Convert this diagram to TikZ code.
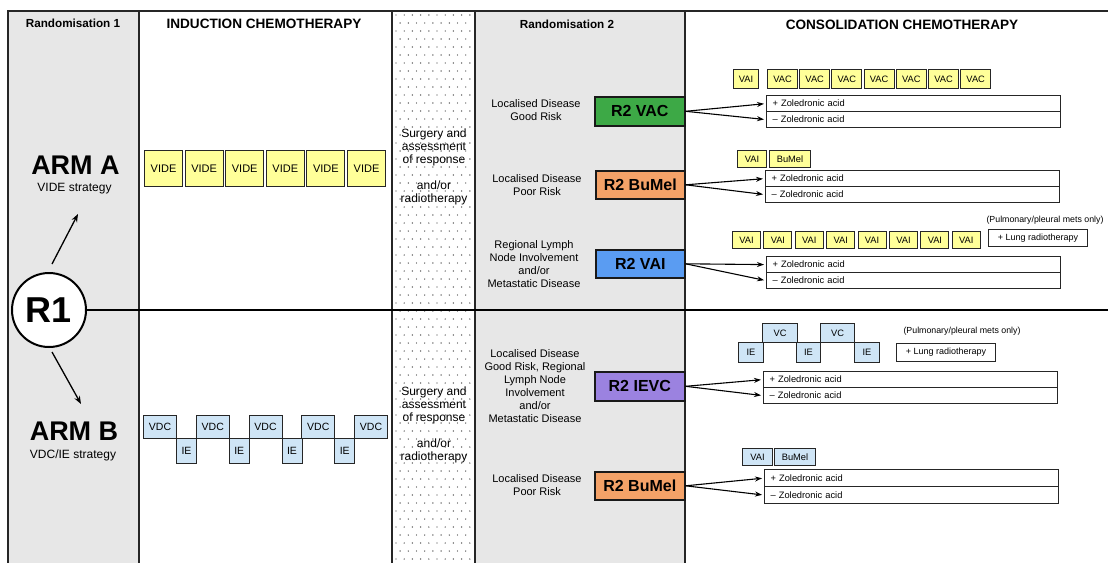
\documentclass[tikz,border=0pt]{standalone}
\usepackage{fontspec}
\setmainfont{Liberation Sans}
\usetikzlibrary{arrows.meta}
\definecolor{gry}{HTML}{E7E7E7}
\definecolor{yel}{HTML}{FFFF99}
\definecolor{lblue}{HTML}{CFE5F6}
\definecolor{vacg}{HTML}{3DA946}
\definecolor{bumo}{HTML}{F4A268}
\definecolor{vaib}{HTML}{5A9CF2}
\definecolor{ievp}{HTML}{9B82E0}
\tikzset{
  box/.style={draw=black!85, line width=1pt, inner sep=0pt, anchor=north west},
  ybox/.style={box, fill=yel},
  bbox/.style={box, fill=lblue},
  smallbox/.style={font=\fontsize{9.3}{10}\selectfont},
  zbox/.style={draw=black!85, line width=1.2pt, anchor=north west, inner xsep=6pt, inner ysep=0pt,
     text width=282pt, minimum height=16pt, align=left, font=\fontsize{9.3}{10}\selectfont},
  rtwo/.style={draw=black!90, line width=1.6pt, anchor=north west, inner sep=0pt,
     font=\fontsize{16}{18}\selectfont\bfseries},
  hdr/.style={anchor=base, font=\fontsize{11.7}{14}\selectfont\bfseries},
  bighdr/.style={anchor=base, font=\fontsize{13.6}{15}\selectfont\bfseries},
  lbl/.style={align=center, font=\fontsize{11}{13}\selectfont},
  slbl/.style={align=center, font=\fontsize{12}{13}\selectfont},
  arr/.style={line width=1.1pt, -{Stealth[length=7pt,width=5pt]}, shorten >=2pt},
  sep/.style={line width=1.5pt, draw=black!85},
}
\begin{document}
\begin{tikzpicture}[x=1pt,y=-1pt]
\useasboundingbox (0,0) rectangle (1108,563);
\fill[white] (0,0) rectangle (1108,563);
% column fills
\fill[gry] (8,11) rectangle (139,563);
\fill[gry] (475,11) rectangle (685,563);
% dots
\foreach \yy in {15,31,...,560} \foreach \xx in {396,404.2,...,471} \fill[black!75] (\xx,\yy) circle (0.7);
\foreach \yy in {23,39,...,560} \foreach \xx in {400.1,408.3,...,468} \fill[black!75] (\xx,\yy) circle (0.7);
% frame lines
\draw[sep] (1108,11) -- (8,11) -- (8,563);
\draw[sep] (139,11) -- (139,563);
\draw[sep] (392,11) -- (392,563);
\draw[sep] (475,11) -- (475,563);
\draw[sep] (685,11) -- (685,563);
% headers
\node[hdr] (h1) at (73,27) {Randomisation 1};
\node[bighdr] (h2) at (264,28) {INDUCTION CHEMOTHERAPY};
\node[hdr] (h3) at (567,28) {Randomisation 2};
\node[bighdr] (h4) at (902,29) {CONSOLIDATION CHEMOTHERAPY};
% R1
\node[circle, draw, line width=2pt, fill=white, minimum size=74pt, inner sep=0pt,
      font=\fontsize{36}{40}\selectfont\bfseries] (r1) at (49,310) {R1};
\draw[line width=2.4pt] (r1.east) -- (1108,310) coordinate (rend);
\coordinate (a1s) at (52,264); \coordinate (a1e) at (78,214);
\coordinate (a2s) at (52,352); \coordinate (a2e) at (81,404);
\draw[line width=1.3pt, -{Stealth[length=8pt,width=6pt]}] (a1s) -- (a1e);
\draw[line width=1.3pt, -{Stealth[length=8pt,width=6pt]}] (a2s) -- (a2e);
\node[anchor=base, font=\fontsize{27}{30}\selectfont\bfseries] (armA) at (75.5,174) {ARM A};
\node[anchor=base, font=\fontsize{12}{14}\selectfont] (armAs) at (74.5,191) {VIDE strategy};
\node[anchor=base, font=\fontsize{27}{30}\selectfont\bfseries] (armB) at (74,440) {ARM B};
\node[anchor=base, font=\fontsize{12}{14}\selectfont] (armBs) at (73,458) {VDC/IE strategy};
% induction arm A
\foreach \i in {0,...,5}
  \node[ybox, minimum width=38pt, minimum height=36pt, font=\fontsize{11}{12}\selectfont] (vide\i) at ({144+\i*40.6},150) {VIDE};
% induction arm B
\foreach \i in {0,...,4}
  \node[bbox, minimum width=33pt, minimum height=23pt, font=\fontsize{10.5}{12}\selectfont] (vdc\i) at ({143+\i*52.75},415) {VDC};
\foreach \i in {0,...,3}
  \node[bbox, minimum width=20pt, minimum height=25pt, font=\fontsize{10.5}{12}\selectfont] (ie\i) at ({176+\i*52.75},438) {IE};
% surgery
\node[slbl] (surgA) at (434,167) {Surgery and\\assessment\\of response\\[13pt]and/or\\radiotherapy};
\node[slbl] (surgB) at (434,425) {Surgery and\\assessment\\of response\\[13pt]and/or\\radiotherapy};
% randomisation 2 labels
\node[lbl] (l1) at (536,110) {Localised Disease\\Good Risk};
\node[lbl] (l2) at (537,185) {Localised Disease\\Poor Risk};
\node[lbl] (l3) at (534,264) {Regional Lymph\\Node Involvement\\and/or\\Metastatic Disease};
\node[lbl] (l4) at (535,386) {Localised Disease\\Good Risk, Regional\\Lymph Node\\Involvement\\and/or\\Metastatic Disease};
\node[lbl] (l5) at (537,485) {Localised Disease\\Poor Risk};
% R2 boxes
\node[rtwo, fill=vacg, minimum width=90pt, minimum height=29pt] (rvac) at (594,96) {R2 VAC};
\node[rtwo, fill=bumo, minimum width=89pt, minimum height=28pt] (rbu1) at (595,170) {R2 BuMel};
\node[rtwo, fill=vaib, minimum width=89pt, minimum height=28pt] (rvai) at (595,249) {R2 VAI};
\node[rtwo, fill=ievp, minimum width=90pt, minimum height=29pt] (rievc) at (594,371) {R2 IEVC};
\node[rtwo, fill=bumo, minimum width=90pt, minimum height=28pt] (rbu2) at (594,471) {R2 BuMel};
% consolidation row 1
\node[ybox, smallbox, minimum width=25pt, minimum height=19pt] (c1a) at (733,69) {VAI};
\foreach \i in {0,...,6}
  \node[ybox, smallbox, minimum width=30pt, minimum height=19pt] (c1b\i) at ({767+\i*32.2},69) {VAC};
\node[zbox] (z1p) at (766,95) {+ Zoledronic acid};
\node[zbox] (z1m) at (766,111) {– Zoledronic acid};
% row 2
\node[ybox, smallbox, minimum width=29pt, minimum height=17pt] (c2a) at (737,150) {VAI};
\node[ybox, smallbox, minimum width=41pt, minimum height=17pt] (c2b) at (769,150) {BuMel};
\node[zbox] (z2p) at (765,170) {+ Zoledronic acid};
\node[zbox] (z2m) at (765,186) {– Zoledronic acid};
% row 3
\node[anchor=center, font=\fontsize{8.8}{10}\selectfont] (pm1) at (1045,220) {(Pulmonary/pleural mets only)};
\foreach \i in {0,...,7}
  \node[ybox, smallbox, minimum width=28pt, minimum height=17pt] (c3\i) at ({732+\i*31.4},231) {VAI};
\node[box, fill=white, minimum width=99pt, minimum height=17pt, font=\fontsize{9}{10}\selectfont] (lr1) at (988,229) {+ Lung radiotherapy};
\node[zbox] (z3p) at (766,256) {+ Zoledronic acid};
\node[zbox] (z3m) at (766,272) {– Zoledronic acid};
% row 4
\node[bbox, smallbox, minimum width=35pt, minimum height=19pt] (vc1) at (762,323) {VC};
\node[bbox, smallbox, minimum width=34pt, minimum height=19pt] (vc2) at (820,323) {VC};
\node[bbox, smallbox, minimum width=25pt, minimum height=20pt] (ie4a) at (738,342) {IE};
\node[bbox, smallbox, minimum width=24pt, minimum height=20pt] (ie4b) at (796,342) {IE};
\node[bbox, smallbox, minimum width=25pt, minimum height=20pt] (ie4c) at (854,342) {IE};
\node[anchor=center, font=\fontsize{8.8}{10}\selectfont] (pm2) at (962,331) {(Pulmonary/pleural mets only)};
\node[box, fill=white, minimum width=99pt, minimum height=18pt, font=\fontsize{9}{10}\selectfont] (lr2) at (896,343) {+ Lung radiotherapy};
\node[zbox] (z4p) at (763,371) {+ Zoledronic acid};
\node[zbox] (z4m) at (763,387) {– Zoledronic acid};
% row 5
\node[bbox, smallbox, minimum width=30pt, minimum height=17pt] (c5a) at (742,448) {VAI};
\node[bbox, smallbox, minimum width=41pt, minimum height=17pt] (c5b) at (774,448) {BuMel};
\node[zbox, minimum height=17pt] (z5p) at (764,469) {+ Zoledronic acid};
\node[zbox, minimum height=17pt] (z5m) at (764,486) {– Zoledronic acid};
% arrows
\foreach \r/\zp/\zm in {rvac/z1p/z1m, rbu1/z2p/z2m, rvai/z3p/z3m, rievc/z4p/z4m, rbu2/z5p/z5m}{
  \draw[arr] (\r.east) -- (\zp.west);
  \draw[arr] (\r.east) -- (\zm.west);
}
\end{tikzpicture}
\end{document}
